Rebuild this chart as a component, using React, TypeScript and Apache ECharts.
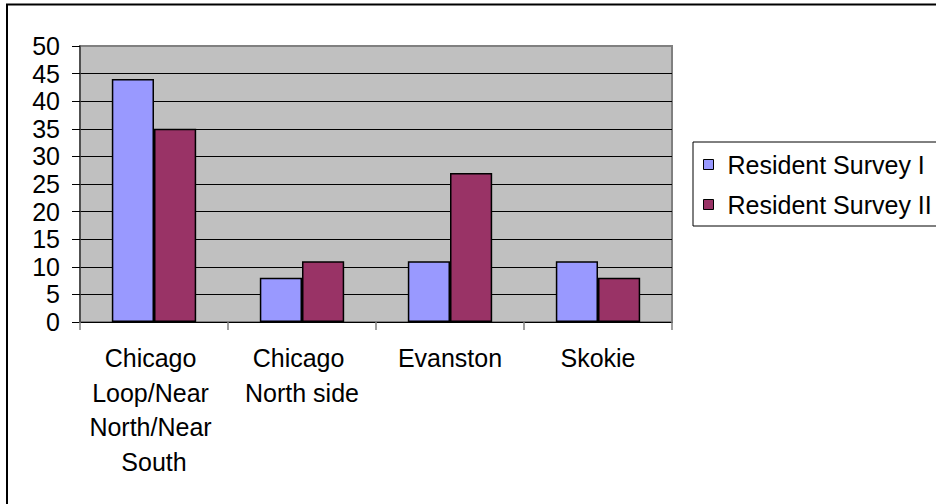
import React, { useEffect, useRef } from "react";
import * as echarts from "echarts";

const categories = [
  "Chicago Loop/Near North/Near South",
  "Chicago North side",
  "Evanston",
  "Skokie",
];
const survey1 = [44, 8, 11, 11];
const survey2 = [35, 11, 27, 8];
const seriesNames = ["Resident Survey I", "Resident Survey II"];
const yTicks = { min: 0, max: 50, interval: 5 };

const FONT = "Liberation Sans, Arial, sans-serif";

export default function App() {
  const ref = useRef<HTMLDivElement>(null);
  useEffect(() => {
    document.body.style.margin = "0";
    const chart = echarts.init(ref.current!, null, { renderer: "svg" });
    const splitColors = Array.from({ length: 11 }, (_, i) => (i === 10 ? "#808080" : "#000000"));
    chart.setOption({
      animation: false,
      backgroundColor: "#ffffff",
      textStyle: { fontFamily: FONT },
      grid: {
        left: 80,
        top: 46,
        right: 264,
        bottom: 182,
        show: true,
        backgroundColor: "#c0c0c0",
        borderColor: "#808080",
        borderWidth: 2,
      },
      legend: {
        orient: "vertical",
        left: 693,
        top: 142,
        padding: [10, 80, 9, 10],
        itemGap: 15,
        itemWidth: 10,
        itemHeight: 10,
        icon: "rect",
        borderColor: "#000",
        borderWidth: 1,
        itemStyle: { borderColor: "#000", borderWidth: 1 },
        textStyle: { fontSize: 25, color: "#000", fontFamily: FONT, padding: [0, 0, 0, 9] },
        data: seriesNames,
      },
      xAxis: {
        type: "category",
        data: categories,
        axisLine: { show: true, lineStyle: { color: "#000", width: 1 } },
        axisTick: { show: true, length: 8, lineStyle: { color: "#808080", width: 1.5 } },
        axisLabel: {
          color: "#000",
          fontSize: 25,
          fontFamily: FONT,
          lineHeight: 34.5,
          margin: 19,
          width: 136,
          overflow: "break",
          interval: 0,
        },
      },
      yAxis: {
        type: "value",
        min: yTicks.min,
        max: yTicks.max,
        interval: yTicks.interval,
        axisLine: { show: true, lineStyle: { color: "#404040", width: 1.5 } },
        axisTick: { show: true, length: 8, lineStyle: { color: "#000", width: 1 } },
        axisLabel: { color: "#000", fontSize: 25, fontFamily: FONT, margin: 20 },
        splitLine: { show: true, lineStyle: { color: splitColors, width: 1 } },
      },
      series: [
        {
          name: seriesNames[0],
          type: "bar",
          data: survey1,
          barGap: "0%",
          barCategoryGap: "43%",
          itemStyle: { color: "#9999ff", borderColor: "#000", borderWidth: 1.5 },
        },
        {
          name: seriesNames[1],
          type: "bar",
          data: survey2,
          barGap: "0%",
          barCategoryGap: "43%",
          itemStyle: { color: "#993366", borderColor: "#000", borderWidth: 1.5 },
        },
      ],
      graphic: [
        {
          type: "rect",
          silent: true,
          shape: { x: 7, y: 4.5, width: 1200, height: 800 },
          style: { fill: "none", stroke: "#000", lineWidth: 2 },
          z: 100,
        },
      ],
    });
    return () => chart.dispose();
  }, []);
  return (
    <div
      ref={ref}
      style={{ position: "fixed", left: 0, top: 0, width: 936, height: 504 }}
    />
  );
}
